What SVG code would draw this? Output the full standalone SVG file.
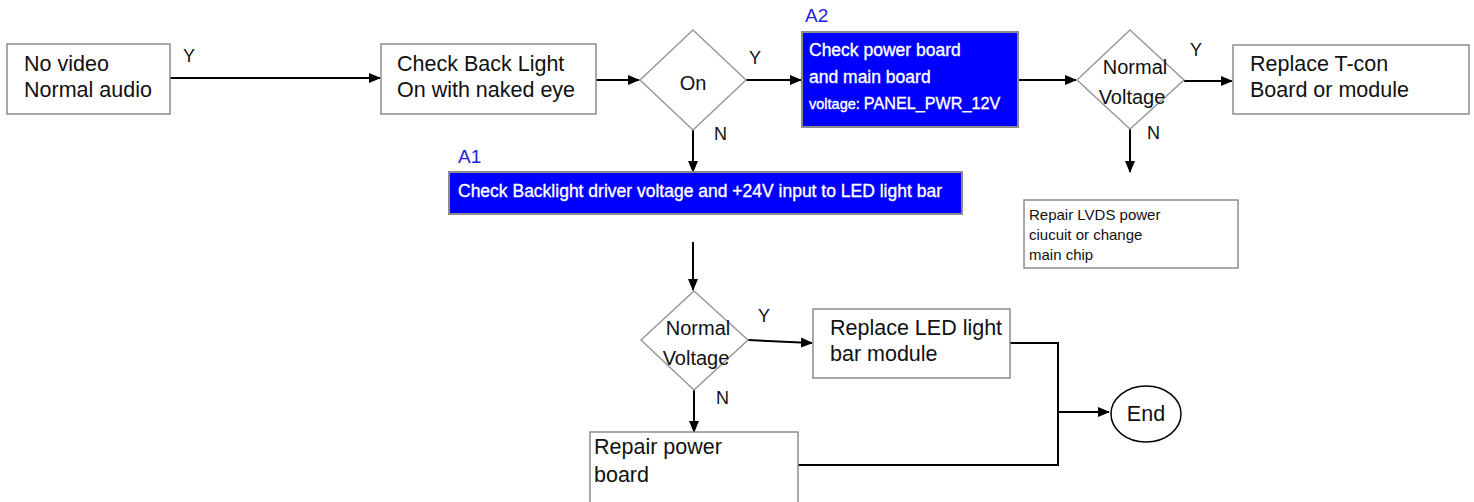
<svg xmlns="http://www.w3.org/2000/svg" width="1474" height="502" viewBox="0 0 1474 502">
<defs>
<marker id="arr" markerWidth="12" markerHeight="10" refX="11" refY="5" orient="auto" markerUnits="userSpaceOnUse">
<path d="M0,0 L12,5 L0,10 z" fill="#000"/>
</marker>
<style>
text{font-family:"Liberation Sans",Arial,sans-serif;fill:#111}
.box{fill:#fff;stroke:#8c8c8c;stroke-width:1.5}
.dia{fill:#fff;stroke:#999;stroke-width:1.5}
.blue{fill:#0000ff;stroke:#8c8c8c;stroke-width:2}
.t20{font-size:21.5px}
.t18{font-size:20px}
.t13{font-size:15px}
.w{fill:#fff;stroke:#fff;stroke-width:0.35}
.lbl{font-size:19px;fill:#2222dd}
.yn{font-size:18px}
.c{fill:none;stroke:#000;stroke-width:2}
</style>
</defs>
<rect width="1474" height="502" fill="#fff"/>
<g id="connectors">
<path class="c" d="M170,78 H380" marker-end="url(#arr)"/>
<path class="c" d="M596,80 H639" marker-end="url(#arr)"/>
<path class="c" d="M746,80 H801" marker-end="url(#arr)"/>
<path class="c" d="M1018,80 H1076" marker-end="url(#arr)"/>
<path class="c" d="M1184,81 H1232" marker-end="url(#arr)"/>
<path class="c" d="M1130,129 V172" marker-end="url(#arr)"/>
<path class="c" d="M693,130 V172" marker-end="url(#arr)"/>
<path class="c" d="M693,242 V290" marker-end="url(#arr)"/>
<path class="c" d="M748,340 L812,343" marker-end="url(#arr)"/>
<path class="c" d="M694,390 V432" marker-end="url(#arr)"/>
<path class="c" d="M1010,343 H1058 V465 H798"/>
<path class="c" d="M1058,412 H1109" marker-end="url(#arr)"/>
<text class="yn" x="183" y="62">Y</text>
<text class="yn" x="749" y="64">Y</text>
<text class="yn" x="714" y="140">N</text>
<text class="yn" x="1190" y="56">Y</text>
<text class="yn" x="1147" y="139">N</text>
<text class="yn" x="758" y="322">Y</text>
<text class="yn" x="716" y="404">N</text>
</g>
<g id="no-video">
<rect class="box" x="7" y="44" width="163" height="70"/>
<text class="t20" x="24" y="71">No video</text>
<text class="t20" x="24" y="97">Normal audio</text>
</g>
<g id="check-backlight">
<rect class="box" x="381" y="44" width="215" height="70"/>
<text class="t20" x="397" y="71">Check Back Light</text>
<text class="t20" x="397" y="97">On with naked eye</text>
</g>
<g id="on-decision">
<polygon class="dia" points="693,30 746,80 693,130 640,80"/>
<text class="t18" x="693" y="90" text-anchor="middle">On</text>
</g>
<g id="a2">
<text class="lbl" x="805" y="22">A2</text>
<rect class="blue" x="802" y="32" width="216" height="95"/>
<text class="w" x="809" y="56" font-size="17.5">Check power board</text>
<text class="w" x="809" y="83" font-size="17.5">and main board</text>
<text class="w" x="809" y="109" font-size="14.5"><tspan>voltage: </tspan><tspan font-size="16.2">PANEL_PWR_12V</tspan></text>
</g>
<g id="normal-voltage-1">
<polygon class="dia" points="1130,30 1184,80 1130,129 1077,80"/>
<text class="t18" x="1135" y="74" text-anchor="middle">Normal</text>
<text class="t18" x="1132" y="104" text-anchor="middle">Voltage</text>
</g>
<g id="replace-tcon">
<rect class="box" x="1233" y="45" width="236" height="69"/>
<text class="t20" x="1250" y="71">Replace T-con</text>
<text class="t20" x="1250" y="97">Board or module</text>
</g>
<g id="repair-lvds">
<rect class="box" x="1024" y="200" width="214" height="68"/>
<text class="t13" x="1029" y="220">Repair LVDS power</text>
<text class="t13" x="1029" y="240">ciucuit or change</text>
<text class="t13" x="1029" y="260">main chip</text>
</g>
<g id="a1">
<text class="lbl" x="458" y="163">A1</text>
<rect class="blue" x="449" y="172" width="513" height="42"/>
<text class="w" x="458" y="197" font-size="17.5">Check Backlight driver voltage and +24V input to LED light bar</text>
</g>
<g id="normal-voltage-2">
<polygon class="dia" points="694,291 748,340 694,390 641,340"/>
<text class="t18" x="698" y="335" text-anchor="middle">Normal</text>
<text class="t18" x="696" y="365" text-anchor="middle">Voltage</text>
</g>
<g id="replace-led">
<rect class="box" x="813" y="309" width="197" height="69"/>
<text class="t20" x="830" y="335">Replace LED light</text>
<text class="t20" x="830" y="361">bar module</text>
</g>
<g id="repair-power">
<rect class="box" x="590" y="432" width="208" height="72"/>
<text class="t20" x="594" y="454">Repair power</text>
<text class="t20" x="594" y="482">board</text>
</g>
<g id="end">
<ellipse cx="1146" cy="414" rx="35" ry="28" fill="#fff" stroke="#000" stroke-width="1.5"/>
<text class="t20" x="1146" y="421" text-anchor="middle">End</text>
</g>
</svg>
